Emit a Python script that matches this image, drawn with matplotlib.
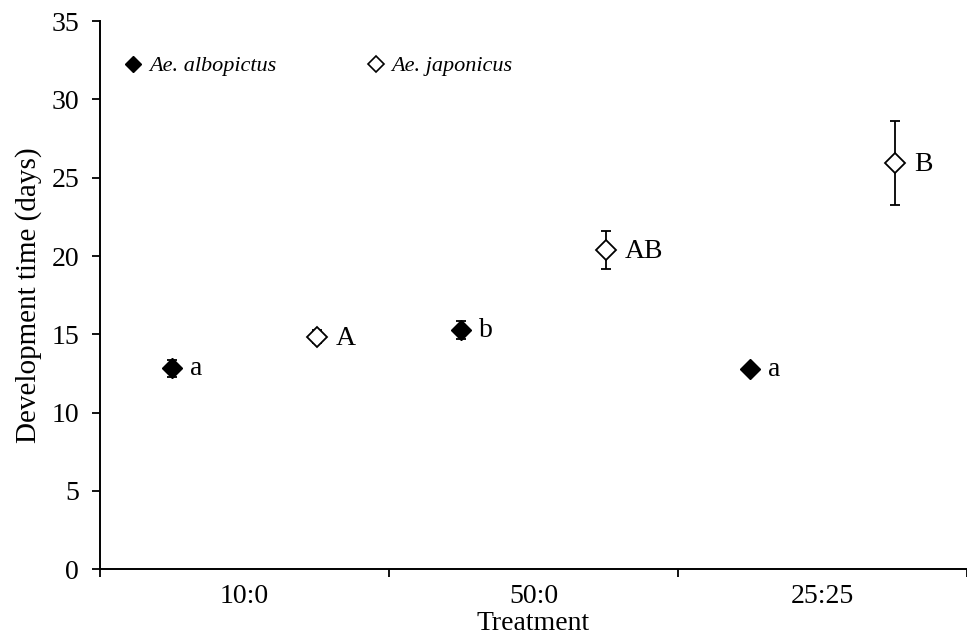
import matplotlib.pyplot as plt
from matplotlib.lines import Line2D
import numpy as np

# treatments and group means
treatments = ['10:0', '50:0', '25:25']
albo_mean = [12.83, 15.27, 12.76]
albo_err = [0.55, 0.55, 0.30]
albo_letters = ['a', 'b', 'a']
jap_mean = [14.85, 20.38, 25.95]
jap_err = [0.40, 1.20, 2.68]
jap_letters = ['A', 'AB', 'B']

plt.rcParams['font.family'] = ['Liberation Serif', 'DejaVu Serif']

fig = plt.figure(figsize=(9.67, 6.41), dpi=100)
ax = fig.add_axes([0.1034, 0.112, 0.8966, 0.855])

x = np.arange(len(treatments))
ax.errorbar(x + 0.25, albo_mean, yerr=albo_err, fmt='D', color='black',
            mfc='black', mec='black', ms=10, capsize=3.5, elinewidth=1.3,
            capthick=1.3)
ax.errorbar(x + 0.75, jap_mean, yerr=jap_err, fmt='D', color='black',
            mfc='white', mec='black', ms=10, mew=1.3, capsize=3.5,
            elinewidth=1.3, capthick=1.3)

for i in range(len(treatments)):
    ax.annotate(albo_letters[i], (x[i] + 0.25, albo_mean[i]), xytext=(13, 0),
                textcoords='offset points', va='center', fontsize=20)
    ax.annotate(jap_letters[i], (x[i] + 0.75, jap_mean[i]), xytext=(14, -1),
                textcoords='offset points', va='center', fontsize=20)

ax.set_xlim(0, 2.98)
ax.set_ylim(0, 35)
ax.set_yticks(np.arange(0, 36, 5))
ax.set_xticks([0, 1, 2, 3])
ax.set_xticklabels([])
ax.set_xticks(x + 0.5, minor=True)
ax.set_xticklabels(treatments, minor=True)
ax.tick_params(axis='x', which='minor', length=0, labelsize=20, pad=11)
ax.tick_params(axis='x', which='major', direction='out', length=6, width=1.3)
ax.tick_params(axis='y', direction='out', length=6, width=1.3, labelsize=20,
               pad=9)

for side in ['top', 'right']:
    ax.spines[side].set_visible(False)
for side in ['left', 'bottom']:
    ax.spines[side].set_linewidth(1.4)

ax.set_ylabel('Development time (days)', fontsize=21, labelpad=7)
ax.set_xlabel('Treatment', fontsize=20, labelpad=1)

handles = [
    Line2D([], [], ls='none', marker='D', ms=8, mfc='black', mec='black'),
    Line2D([], [], ls='none', marker='D', ms=8, mfc='white', mec='black', mew=1.2),
]
ax.legend(handles, ['Ae. albopictus', 'Ae. japonicus'], loc='center left',
          bbox_to_anchor=(0.0, 0.918), ncol=2, frameon=False,
          handletextpad=0.2, columnspacing=4.0, handlelength=1.0,
          borderaxespad=0.6, prop={'style': 'italic', 'size': 16})

fig.savefig('out.png', dpi=100)
